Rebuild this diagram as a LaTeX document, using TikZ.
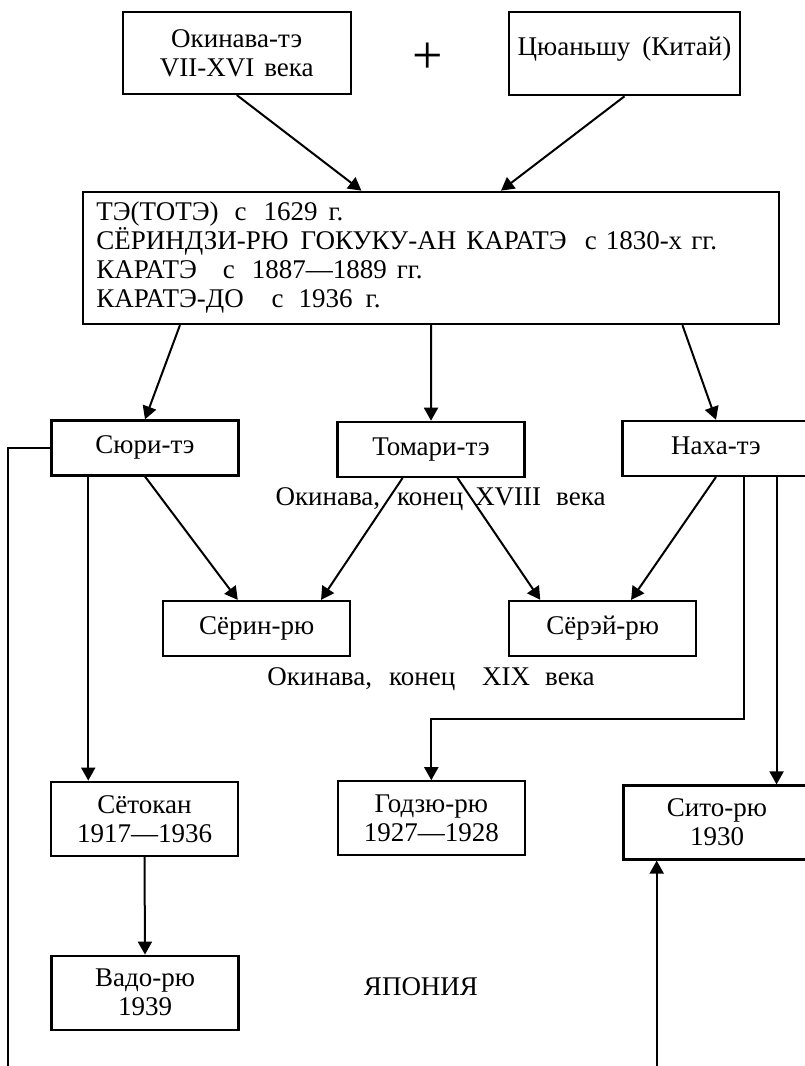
\documentclass[tikz,border=0pt]{standalone}
\usepackage{fontspec}
\setmainfont{Liberation Serif}
\usetikzlibrary{arrows.meta,calc,positioning}

\begin{document}
\begin{tikzpicture}[x=1pt,y=-1pt,font=\fontsize{27pt}{29pt}\selectfont,
	box/.style={rectangle,draw=black,line width=2.2pt,minimum width=187pt,minimum height=55pt,inner sep=0pt,text height=18pt,text depth=6pt},
	tallbox/.style={rectangle,draw=black,line width=2.2pt,minimum width=187pt,minimum height=74pt,inner sep=0pt,align=center},
	arr/.style={-{Triangle[length=13pt,width=14pt]},line width=2pt},
	lbl/.style={anchor=base,inner sep=0pt}]
	\useasboundingbox (0,0) rectangle (805,1066);
	% top row
	\node[tallbox,minimum width=228pt,minimum height=82pt] (okinawa) at (236.7,52.9) {Окинава-тэ\\VII-XVI\hspace{10pt}века};
	\node[box,minimum width=231pt,minimum height=83pt,text depth=14pt] (china) at (624.5,53.7) {Цюаньшу\hspace{12pt}(Китай)};
	\node[inner sep=0pt,font=\fontsize{54pt}{60pt}\selectfont] (plus) at (428,58) {+};
	\node[rectangle,draw=black,line width=2.2pt,minimum width=695.7pt,minimum height=132.3pt,inner xsep=13pt,inner ysep=0pt,text width=669.7pt,align=left] (karate) at (431.2,257.9)
	{ТЭ(ТОТЭ)\hspace{16pt}с\hspace{17pt}1629\hspace{11pt}г.\\
	СЁРИНДЗИ-РЮ\hspace{12pt}ГОКУКУ-АН\hspace{10pt}КАРАТЭ\hspace{18pt}с 1830-х гг.\\
	КАРАТЭ\hspace{26pt}с\hspace{17pt}1887—1889\hspace{10pt}гг.\\
	КАРАТЭ-ДО\hspace{28pt}с\hspace{15pt}1936\hspace{13pt}г.};
	\draw[arr] (okinawa.south) -- ($(karate.north west)!0.4!(karate.north east)$);
	\draw[arr] (china.south) -- ($(karate.north west)!0.6!(karate.north east)$);
	% Okinawa schools
	\node[box] (shuri) at (145,447.9) {Сюри-тэ};
	\node[box] (tomari) at (431,449.3) {Томари-тэ};
	\node[box] (naha) at (716,448.4) {Наха-тэ};
	\draw[arr] ($(karate.south west)!0.14!(karate.south east)$) -- (shuri.north);
	\draw[arr] (karate.south) -- (tomari.north);
	\draw[arr] ($(karate.south west)!0.86!(karate.south east)$) -- (naha.north);
	\node[lbl] (lblxviii) at (440.5,505) {Окинава,\hspace{17pt}конец\hspace{12pt}XVIII\hspace{15pt}века};
	\node[box] (shorin) at (256.7,628.5) {Сёрин-рю};
	\node[box] (shorei) at (602.7,628.5) {Сёрэй-рю};
	\draw[arr] (shuri.south) -- ($(shorin.north west)!0.4!(shorin.north east)$);
	\draw[arr] ($(tomari.south west)!0.35!(tomari.south east)$) -- ($(shorin.north west)!0.84!(shorin.north east)$);
	\draw[arr] ($(tomari.south west)!0.64!(tomari.south east)$) -- ($(shorei.north west)!0.17!(shorei.north east)$);
	\draw[arr] (naha.south) -- ($(shorei.north west)!0.65!(shorei.north east)$);
	\node[lbl] (lblxix) at (431,685) {Окинава,\hspace{17pt}конец\hspace{27pt}XIX\hspace{15pt}века};
	% Japan
	\node[tallbox] (shotokan) at (144.5,818.7) {Сётокан\\1917—1936};
	\node[tallbox] (goju) at (431.3,818.3) {Годзю-рю\\1927—1928};
	\node[tallbox] (shito) at (717,822.5) {Сито-рю\\1930};
	\node[tallbox] (wado) at (145,992.7) {Вадо-рю\\1939};
	\node[lbl] (japan) at (421,995) {ЯПОНИЯ};
	\coordinate (gojubend) at (743.3,719.3);
	\coordinate (leftend) at (8,1066);
	\coordinate (shitoin) at (656.7,1066);
	\draw[line width=2pt] (shuri.west) -| (leftend);
	\draw[arr] ($(shuri.south west)!0.2!(shuri.south east)$) coordinate (s1) -- (s1 |- shotokan.north);
	\draw[arr] (shotokan.south) -- (wado.north);
	\draw[arr] ($(naha.south west)!0.65!(naha.south east)$) coordinate (n1) -- (n1 |- gojubend) -| (goju.north);
	\draw[arr] ($(naha.south west)!0.82!(naha.south east)$) coordinate (n2) -- (n2 |- shito.north);
	\draw[arr] (shitoin) -- (shitoin |- shito.south);
\end{tikzpicture}
\end{document}
